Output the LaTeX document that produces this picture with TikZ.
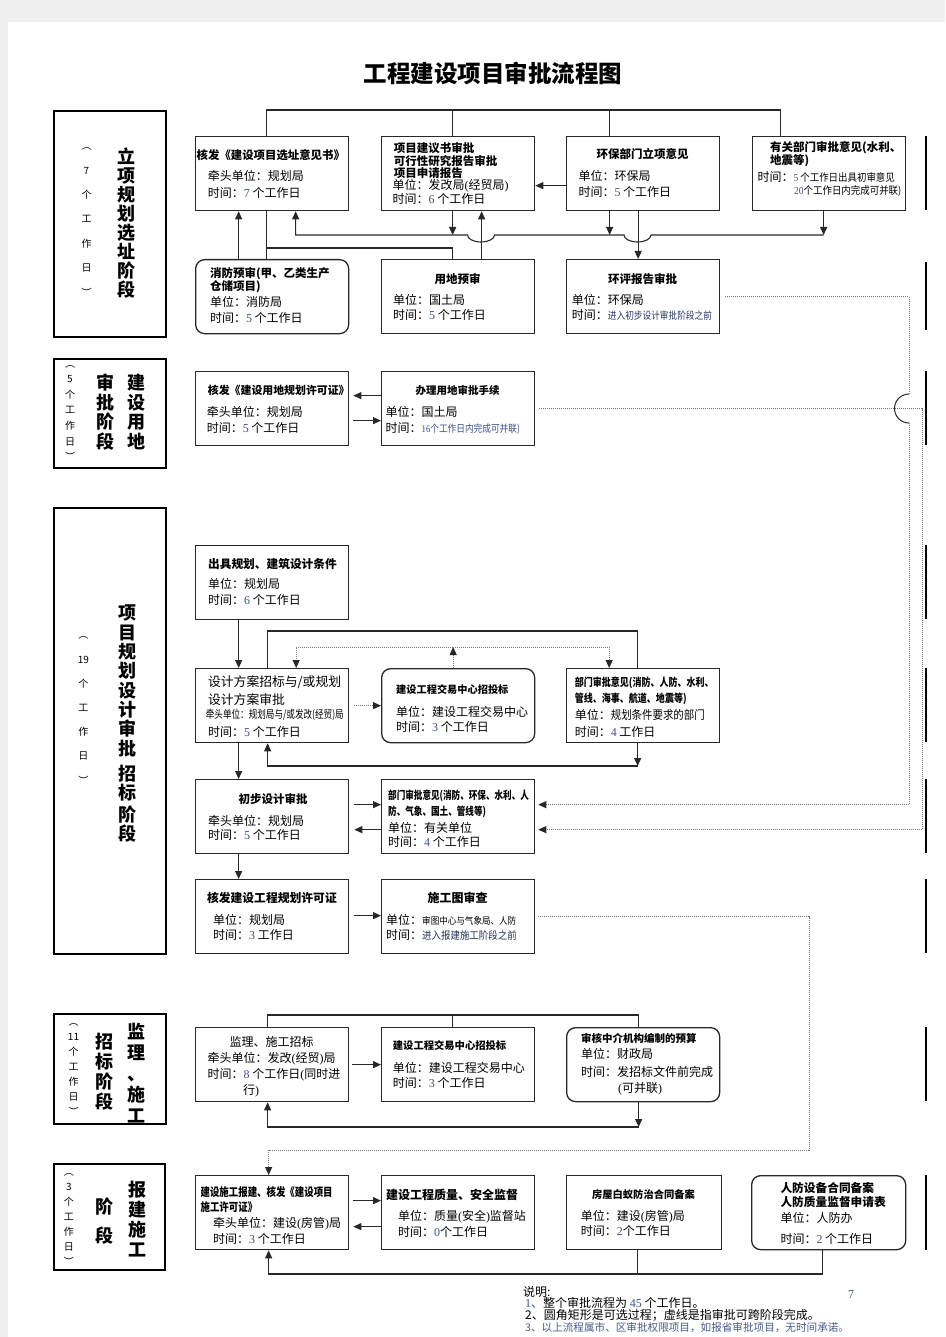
\documentclass[tikz,border=0pt]{standalone}
\usepackage{fontspec}
\usepackage{graphicx}
\setmainfont{Noto Sans CJK SC}
\newfontfamily\numf{Liberation Serif}
\usetikzlibrary{arrows.meta}
\definecolor{numc}{RGB}{60,80,140}
\definecolor{ln}{RGB}{40,40,40}
\definecolor{dotc}{RGB}{120,120,120}
\newcommand\nm[1]{{\numf\color{numc}#1}}
\newcommand\fs[1]{\fontsize{#1}{#1}\selectfont}
\newcommand\cnd[3]{\scalebox{#1}[1]{\fs{#2}#3}}
\begin{document}
\begin{tikzpicture}[x=1pt,y=-1pt,
 box/.style={draw=ln,line width=1.3pt,rectangle,anchor=north west,minimum width=153pt,minimum height=74pt,inner sep=0pt},
 rbox/.style={box,rounded corners=9pt},
 stage/.style={draw=black,line width=2.2pt,rectangle,anchor=north west,inner sep=0pt},
 t/.style={inner sep=0pt,anchor=west,font=\fs{12}},
 tb/.style={inner sep=0pt,anchor=west,font=\bfseries\fs{11.5}},
 tc/.style={inner sep=0pt,anchor=center,font=\bfseries\fs{11.5}},
 vt/.style={inner sep=0pt,align=center},
 conn/.style={draw=ln,line width=1.1pt},
 arr/.style={conn,-{Triangle[length=8pt,width=7pt]}},
 dl/.style={draw=dotc,line width=1pt,dash pattern=on 1pt off 1pt},
 darr/.style={dl,-{Triangle[length=8pt,width=7pt,color=ln]}},
]
\fill[black!6] (0,0) rectangle (945,1337);
\fill[white] (8,22) rectangle (945,1337);
\useasboundingbox (0,0) rectangle (945,1337);

\node[inner sep=0pt,font=\bfseries\fs{23.5}] (title) at (493,73) {工程建设项目审批流程图};

% stage boxes
\node[stage,minimum width=112pt,minimum height=226pt] (st1) at (53,110) {};
\node[stage,minimum width=112pt,minimum height=109pt] (st2) at (53,358) {};
\node[stage,minimum width=112pt,minimum height=446pt] (st3) at (53,507) {};
\node[stage,minimum width=112pt,minimum height=110pt] (st4) at (53,1013) {};
\node[stage,minimum width=111pt,minimum height=106pt] (st5) at (53,1163) {};

\node[vt,font=\bfseries\fontsize{18}{19}\selectfont] (st1a) at (126,223.5) {立\\项\\规\\划\\选\\址\\阶\\段};
\node[vt,font=\fontsize{10}{24.4}\selectfont] (st1b) at (86.5,222) {︵\\7\\个\\工\\作\\日\\︶};
\node[vt,font=\bfseries\fontsize{18}{19.6}\selectfont] (st2a) at (136.5,412) {建\\设\\用\\地};
\node[vt,font=\bfseries\fontsize{18}{19.6}\selectfont] (st2b) at (105,412) {审\\批\\阶\\段};
\node[vt,font=\fontsize{10}{15.6}\selectfont] (st2c) at (70,413) {︵\\5\\个\\工\\作\\日\\︶};
\node[vt,font=\bfseries\fontsize{18}{19.3}\selectfont] (st3a) at (127,724) {项\\目\\规\\划\\设\\计\\审\\批\\[5.7pt]招\\标\\[3pt]阶\\段};
\node[vt,font=\fontsize{10}{24.2}\selectfont] (st3b) at (83.3,710.5) {︵\\19\\个\\工\\作\\日\\︶};
\node[vt,font=\bfseries\fontsize{18}{20.8}\selectfont] (st4a) at (136,1073) {监\\理\\、\\施\\工};
\node[vt,font=\bfseries\fontsize{18}{20}\selectfont] (st4b) at (104.7,1072) {招\\标\\阶\\段};
\node[vt,font=\fontsize{10}{15}\selectfont] (st4c) at (73.5,1070) {︵\\11\\个\\工\\作\\日\\︶};
\node[vt,font=\bfseries\fontsize{18}{20}\selectfont] (st5a) at (137,1219) {报\\建\\施\\工};
\node[vt,font=\bfseries\fontsize{18}{28.7}\selectfont] (st5b) at (104.6,1221.4) {阶\\段};
\node[vt,font=\fontsize{10}{15}\selectfont] (st5c) at (68.8,1220) {︵\\3\\个\\工\\作\\日\\︶};

% boxes
\node[box] (A) at (195,136) {};
\node[box] (B) at (381,136) {};
\node[box] (C) at (566,136) {};
\node[box] (D) at (752,136) {};
\node[rbox] (E) at (195,259) {};
\node[box] (F) at (381,259) {};
\node[box] (G) at (566,259) {};
\node[box] (H) at (195,371) {};
\node[box] (I) at (381,371) {};
\node[box] (J) at (195,545) {};
\node[box] (K) at (195,668) {};
\node[rbox] (M) at (381,668) {};
\node[box] (N) at (566,668) {};
\node[box] (L) at (195,779) {};
\node[box] (O) at (381,779) {};
\node[box] (P) at (195,879) {};
\node[box] (Q) at (381,879) {};
\node[box] (S) at (195,1027) {};
\node[box] (T) at (381,1027) {};
\node[rbox] (U) at (566,1027) {};
\node[box] (R) at (195,1175) {};
\node[box] (V) at (381,1175) {};
\node[box,minimum width=155pt] (W) at (566,1175) {};
\node[rbox,minimum width=154pt] (X) at (751,1175) {};

% right-edge partial lines
\foreach \ya/\yb in {136/210,262/330,371/445,545/619,668/742,779/853,879/953,1027/1101,1175/1250}
  \draw[black,line width=1.3pt] (926,\ya) -- (926,\yb);

% texts section 1
\node[tb,font=\bfseries\fs{11.4}] (A1) at (196.5,155) {核发《建设项目选址意见书》};
\node[t] (A2) at (207.7,176) {牵头单位：规划局};
\node[t] (A3) at (207.7,192.7) {时间：\nm{7} 个工作日};
\node[tb] (B1) at (393.6,147.7) {项目建议书审批};
\node[tb] (B2) at (393.6,161) {可行性研究报告审批};
\node[tb] (B3) at (393.6,173.3) {项目申请报告};
\node[t] (B4) at (392.5,186) {单位：发改局{\numf(}经贸局{\numf)}};
\node[t] (B5) at (392.5,199) {时间：\nm{6} 个工作日};
\node[tc] (C1) at (642.5,154.3) {环保部门立项意见};
\node[t] (C2) at (578.3,176) {单位：环保局};
\node[t] (C3) at (578.3,191.7) {时间：\nm{5} 个工作日};
\node[tb] (D1) at (770,147.7) {有关部门审批意见(水利、};
\node[tb] (D2) at (770,161) {地震等)};
\node[t] (D3) at (757.3,176.7) {时间：\cnd{0.9}{10.5}{\nm{5} 个工作日出具初审意见}};
\node[t] (D4) at (794,191) {\cnd{0.9}{10.5}{\nm{20}个工作日内完成可并联)}};
\node[tb] (E1) at (209.8,274) {消防预审(甲、乙类生产};
\node[tb] (E2) at (209.8,286.7) {仓储项目)};
\node[t] (E3) at (209.8,301.7) {单位：消防局};
\node[t] (E4) at (209.8,317.7) {时间：\nm{5} 个工作日};
\node[tc] (F1) at (457.5,279) {用地预审};
\node[t] (F2) at (393,300) {单位：国土局};
\node[t] (F3) at (393,315) {时间：\nm{5} 个工作日};
\node[tc] (G1) at (642.5,279.3) {环评报告审批};
\node[t] (G2) at (571.7,300) {单位：环保局};
\node[t] (G3) at (571.7,315) {时间：\cnd{0.85}{10.2}{\color{numc!70!black}进入初步设计审批阶段之前}};

% section 2
\node[tb,font=\bfseries\fs{10.9}] (H1) at (207.7,390) {核发《建设用地规划许可证》};
\node[t] (H2) at (206.6,411.7) {牵头单位：规划局};
\node[t] (H3) at (206.6,428.3) {时间：\nm{5} 个工作日};
\node[tc,font=\bfseries\fs{10.5}] (I1) at (457.5,390) {办理用地审批手续};
\node[t] (I2) at (385.5,411.7) {单位：国土局};
\node[t] (I3) at (385.5,428.3) {时间：\cnd{0.85}{10.2}{\color{numc}\nm{16}个工作日内完成可并联)}};

% section 3
\node[tb,font=\bfseries\fs{11.7}] (J1) at (207.9,564) {出具规划、建筑设计条件};
\node[t] (J2) at (207.9,584) {单位：规划局};
\node[t] (J3) at (207.9,600) {时间：\nm{6} 个工作日};
\node[t,font=\fs{12.8}] (K1) at (207.9,682.7) {设计方案招标与/或规划};
\node[t,font=\fs{12.8}] (K2) at (207.9,699.3) {设计方案审批};
\node[t] (K3) at (205.7,715) {\cnd{0.78}{11}{牵头单位：规划局与/或发改(经贸)局}};
\node[t] (K4) at (207.9,731.7) {时间：\nm{5} 个工作日};
\node[tb,font=\bfseries\fs{10.2}] (M1) at (396,690) {建设工程交易中心招投标};
\node[t] (M2) at (396,711.7) {单位：建设工程交易中心};
\node[t] (M3) at (396,726.7) {时间：\nm{3} 个工作日};
\node[tb] (N1) at (574.6,683.3) {\cnd{0.82}{11}{部门审批意见(消防、人防、水利、}};
\node[tb] (N2) at (574.6,699.3) {\cnd{0.82}{11}{管线、海事、航道、地震等)}};
\node[t] (N3) at (574.6,715) {单位：\cnd{0.87}{12}{规划条件要求的部门}};
\node[t] (N4) at (574.6,731.7) {时间：\nm{4} 工作日};
\node[tc] (L1) at (273,799.3) {初步设计审批};
\node[t] (L2) at (208,820.7) {牵头单位：规划局};
\node[t] (L3) at (208,835) {时间：\nm{5} 个工作日};
\node[tb] (O1) at (388,796) {\cnd{0.78}{11}{部门审批意见(消防、环保、水利、人}};
\node[tb] (O2) at (388,811.7) {\cnd{0.78}{11}{防、气象、国土、管线等)}};
\node[t] (O3) at (388,828.3) {单位：有关单位};
\node[t] (O4) at (388,841.7) {时间：\nm{4} 个工作日};
\node[tb,font=\bfseries\fs{11.8}] (P1) at (206.8,898.3) {核发建设工程规划许可证};
\node[t] (P2) at (212.9,920) {单位：规划局};
\node[t] (P3) at (212.9,935) {时间：\nm{3} 工作日};
\node[tc,font=\bfseries\fs{12}] (Q1) at (457.5,898.3) {施工图审查};
\node[t] (Q2) at (386,920) {单位：\cnd{0.9}{9.5}{审图中心与气象局、人防}};
\node[t] (Q3) at (386,935) {时间：\cnd{0.9}{10.5}{\color{numc!60!black}进入报建施工阶段之前}};

% section 4
\node[tc,font=\fs{12}] (S1) at (271.5,1042.3) {监理、施工招标};
\node[t] (S2) at (207.4,1059) {牵头单位：发改{\numf(}经贸{\numf)}局};
\node[t] (S3) at (207.4,1075) {时间：\nm{8} 个工作日{\numf(}同时进};
\node[t] (S4) at (243,1090.7) {行{\numf)}};
\node[tb,font=\bfseries\fs{10.3}] (T1) at (392.7,1046) {建设工程交易中心招投标};
\node[t] (T2) at (392.7,1067.7) {单位：建设工程交易中心};
\node[t] (T3) at (392.7,1083.3) {时间：\nm{3} 个工作日};
\node[tb,font=\bfseries\fs{10.5}] (U1) at (581,1038.3) {审核中介机构编制的预算};
\node[t] (U2) at (581,1054.3) {单位：财政局};
\node[t] (U3) at (581,1071.7) {时间：发招标文件前完成};
\node[t] (U4) at (618,1089) {{\numf(}可并联{\numf)}};

% section 5
\node[tb] (R1) at (200.4,1192.3) {\cnd{0.82}{11.5}{建设施工报建、核发《建设项目}};
\node[tb] (R2) at (200.4,1207.3) {\cnd{0.82}{11.5}{施工许可证》}};
\node[t] (R3) at (213,1224) {牵头单位：建设{\numf(}房管{\numf)}局};
\node[t] (R4) at (213,1239.3) {时间：\nm{3} 个工作日};
\node[tb,font=\bfseries\fs{12}] (V1) at (386,1195) {建设工程质量、安全监督};
\node[t] (V2) at (397.8,1216.7) {单位：质量{\numf(}安全{\numf)}监督站};
\node[t] (V3) at (397.8,1231.7) {时间：\nm{0}个工作日};
\node[tc,font=\bfseries\fs{10.3}] (W1) at (643.5,1195) {房屋白蚁防治合同备案};
\node[t] (W2) at (580.7,1216.7) {单位：建设{\numf(}房管{\numf)}局};
\node[t] (W3) at (580.7,1231) {时间：\nm{2}个工作日};
\node[tb,font=\bfseries\fs{11.7}] (X1) at (780.3,1187.7) {人防设备合同备案};
\node[tb,font=\bfseries\fs{11.7}] (X2) at (780.3,1201.7) {人防质量监督申请表};
\node[t] (X3) at (780.3,1218.3) {单位：人防办};
\node[t] (X4) at (780.3,1239.3) {时间：\nm{2} 个工作日};

% footer
\node[t] (n0) at (523,1291.7) {说明:};
\node[t] (n1) at (525,1303) {{\color{numc}{\numf 1}、}整个审批流程为 \nm{45} 个工作日。};
\node[t] (n2) at (525,1315) {2、圆角矩形是可选过程；虚线是指审批可跨阶段完成。};
\node[t,font=\fs{10.6},text=numc!80!gray] (n3) at (525,1328) {3、以上流程属市、区审批权限项目，如报省审批项目，无时间承诺。};
\node[t,font=\numf\fs{12},text=numc] (pg) at (848,1295) {7};

% coordinates
\coordinate (b1) at (0,110);
\coordinate (b2) at (0,235);
\coordinate (b3) at (0,248);
\coordinate (b4) at (0,631);
\coordinate (b5) at (0,766);
\coordinate (b6) at (0,647);
\coordinate (b7) at (0,1015);
\coordinate (b8) at (0,1127);
\coordinate (b9) at (0,1274);
\coordinate (xr1) at (909,0);
\coordinate (xr2) at (922,0);
\coordinate (h1) at (909,394);
\coordinate (h2) at (909,423);
\coordinate (q1) at (809,1150);

% section 1 connectors
\draw[conn] ([xshift=-5.5pt]A.north) |- ([xshift=-48.5pt]D.north |- b1) -- ([xshift=-48.5pt]D.north);
\draw[conn] ([xshift=-5.5pt]B.north) -- ([xshift=-5.5pt]B.north |- b1);
\draw[conn] ([xshift=-33.5pt]C.north) -- ([xshift=-33.5pt]C.north |- b1);
\draw[arr] ([yshift=-12pt]C.west) -- ([yshift=-12pt]B.east);
\draw[arr] ([xshift=-5.5pt]D.south |- b2) -- (651,235) arc[start angle=0,end angle=180,x radius=13.5,y radius=7]
   -- (494.5,235) arc[start angle=0,end angle=180,x radius=13.5,y radius=7]
   -- ([xshift=23.5pt]A.south |- b2) -- ([xshift=23.5pt]A.south);
\draw[arr] ([xshift=-5.5pt]B.south) -- ([xshift=-5.5pt]B.south |- b2);
\draw[arr] ([xshift=23.5pt]F.north) -- ([xshift=23.5pt]B.south);
\draw[arr] ([xshift=-33.5pt]C.south) -- ([xshift=-33.5pt]C.south |- b2);
\draw[arr] ([xshift=-5pt]C.south) -- ([xshift=-5pt]G.north);
\draw[arr] ([xshift=-5.5pt]D.south) -- ([xshift=-5.5pt]D.south |- b2);
\draw[conn] ([xshift=-5.5pt]A.south) -- ([xshift=-5.5pt]E.north);
\draw[conn] ([xshift=-5.5pt]A.south |- b3) -| ([xshift=-5.5pt]F.north);
\draw[arr] ([xshift=-33.5pt]E.north) -- ([xshift=-33.5pt]A.south);

% cross-stage dotted lines
\draw[dl] ([xshift=5pt]G.east) -| (h1);
\draw[ln,line width=1pt] (h1) arc[start angle=-90,end angle=-270,radius=14.5];
\draw[darr,shorten >=3pt] (h2) |- ([yshift=12pt]O.east);
\draw[darr,shorten >=3pt] ([xshift=4pt]I.east) -| ([yshift=-13pt]O.east -| xr2) -- ([yshift=-13pt]O.east);
\draw[darr] ([xshift=3pt]Q.east) -| (q1) -| ([xshift=-3.5pt]R.north);

% section 2
\draw[arr,shorten >=4pt] ([yshift=13pt]I.west) -- ([yshift=13pt]H.east);
\draw[arr,shorten <=4pt] ([yshift=-12pt]H.east) -- ([yshift=-12pt]I.west);

% section 3
\coordinate (m1) at ([xshift=-5pt]M.north |- b6);
\draw[arr] ([xshift=-33.5pt]J.south) -- ([xshift=-33.5pt]K.north);
\draw[conn] ([xshift=-4.5pt]K.north) |- ([xshift=-5.5pt]N.north |- b4) -- ([xshift=-5.5pt]N.north);
\draw[arr] ([xshift=-5.5pt]N.south) -- ([xshift=-5.5pt]N.south |- b5);
\draw[arr] ([xshift=-5.5pt]N.south |- b5) -| ([xshift=-4.5pt]K.south);
\draw[darr] ([xshift=-5pt]M.north) -- (m1);
\draw[darr] (m1) -| ([xshift=24pt]K.north);
\draw[darr] (m1) -| ([xshift=-34pt]N.north);
\draw[darr,shorten <=5pt] (K.east) -- (M.west);
\draw[arr] ([xshift=-33.5pt]K.south) -- ([xshift=-33.5pt]L.north);
\draw[arr,shorten <=5pt] ([yshift=12pt]L.east) -- ([yshift=12pt]O.west);
\draw[arr,shorten >=5pt] ([yshift=-13pt]O.west) -- ([yshift=-13pt]L.east);
\draw[arr] ([xshift=-33.5pt]L.south) -- ([xshift=-33.5pt]P.north);
\draw[arr,shorten <=5pt] ([yshift=1pt]P.east) -- ([yshift=1pt]Q.west);

% section 4
\draw[conn] ([xshift=-4.5pt]S.north) |- ([xshift=-4.5pt]U.north |- b7) -- ([xshift=-4.5pt]U.north);
\draw[conn] ([xshift=-5.5pt]T.north) -- ([xshift=-5.5pt]T.north |- b7);
\draw[arr,shorten <=3pt] (S.east) -- (T.west);
\draw[arr] ([xshift=-4.5pt]U.south) -- ([xshift=-4.5pt]U.south |- b8);
\draw[arr] ([xshift=-4.5pt]U.south |- b8) -| ([xshift=-4.5pt]S.south);

% section 5
\draw[arr,shorten <=4pt] ([yshift=12pt]R.east) -- ([yshift=12pt]V.west);
\draw[arr,shorten >=4pt] ([yshift=-14pt]V.west) -- ([yshift=-14pt]R.east);
\draw[conn] ([xshift=-6.5pt]W.south) -- ([xshift=-6.5pt]W.south |- b9);
\draw[arr] ([xshift=-6pt]X.south) |- ([xshift=-3.5pt]R.south |- b9) -- ([xshift=-3.5pt]R.south);
\end{tikzpicture}
\end{document}
